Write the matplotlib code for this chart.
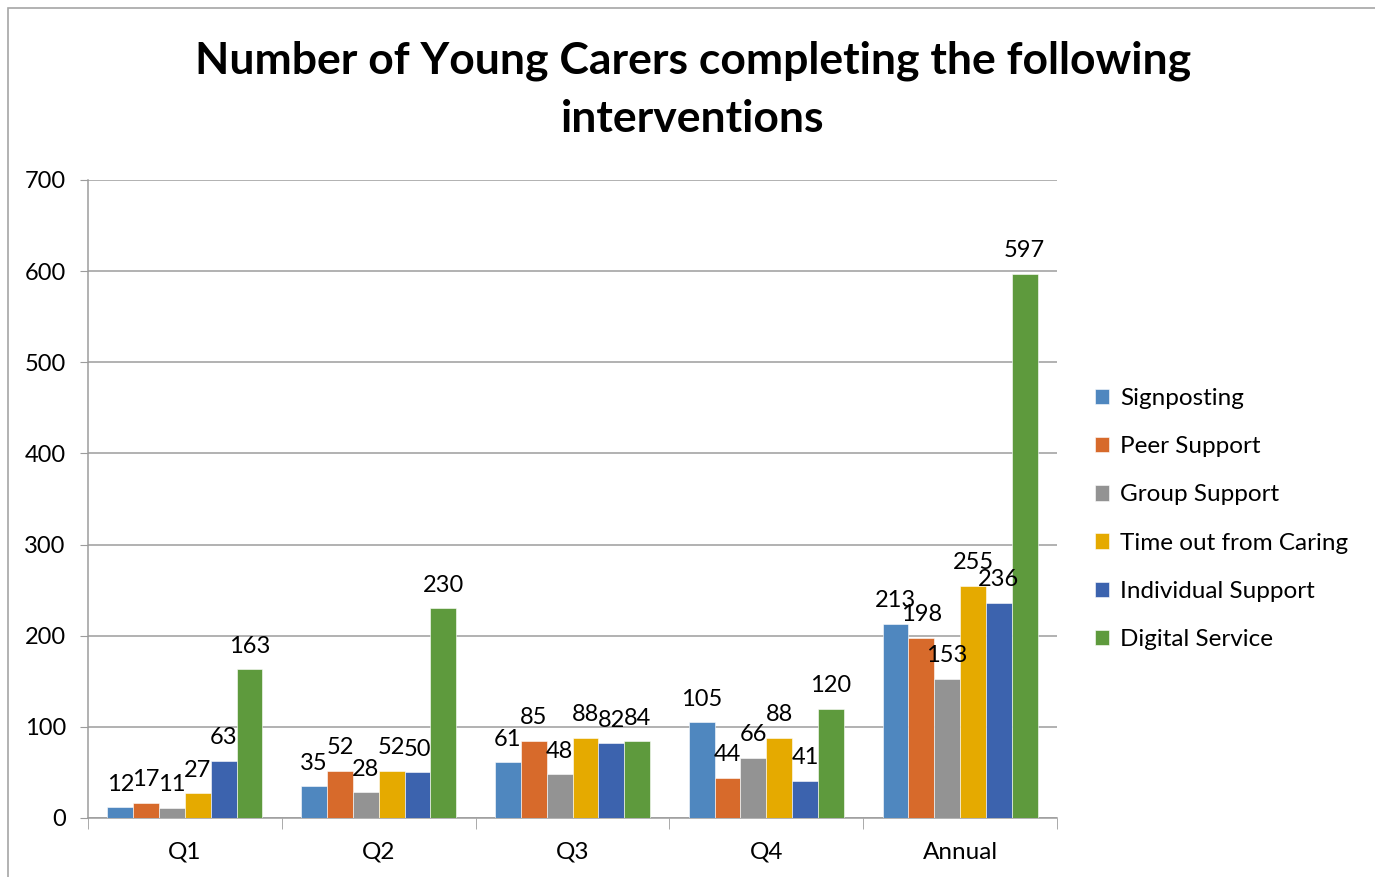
import numpy as np
import matplotlib.pyplot as plt
from matplotlib.patches import Rectangle

categories = ['Q1', 'Q2', 'Q3', 'Q4', 'Annual']
series_names = ['Signposting', 'Peer Support', 'Group Support',
                'Time out from Caring', 'Individual Support', 'Digital Service']
signposting = [12, 35, 61, 105, 213]
peer_support = [17, 52, 85, 44, 198]
group_support = [11, 28, 48, 66, 153]
time_out = [27, 52, 88, 88, 255]
individual_support = [63, 50, 82, 41, 236]
digital_service = [163, 230, 84, 120, 597]

colors = ['#4F87BF', '#D76A2B', '#939393', '#E5AA00', '#3C63AE', '#5E9A3D']

plt.rcParams['font.family'] = ['Lato', 'DejaVu Sans']

fig = plt.figure(figsize=(13.75, 8.77), dpi=100)
ax = fig.add_axes([88 / 1375, 1 - 818 / 877, (1057 - 88) / 1375, (818 - 180) / 877])

# outer chart frame
fig.patches.append(Rectangle((8 / 1375, -0.01), 1.2, 1 - 8 / 877 + 0.01,
                             transform=fig.transFigure, fill=False,
                             edgecolor='#A6A6A6', linewidth=1.2))

all_series = [signposting, peer_support, group_support, time_out,
              individual_support, digital_service]
x = np.arange(len(categories))
width = 0.8 / len(all_series)

for i, (name, vals) in enumerate(zip(series_names, all_series)):
    pos = x - 0.4 + width * (i + 0.5)
    bars = ax.bar(pos, vals, width, color=colors[i], label=name,
                  edgecolor='white', linewidth=0.4, zorder=3)
    for b, v in zip(bars, vals):
        ax.annotate(str(v), (b.get_x() + b.get_width() / 2, v),
                    xytext=(0, 9), textcoords='offset points',
                    ha='center', va='bottom', fontsize=17, color='black',
                    zorder=10)

ax.set_xlim(-0.5, len(categories) - 0.5)
ax.set_ylim(0, 700)
ax.set_yticks(np.arange(0, 701, 100))
ax.yaxis.grid(True, color='#9C9C9C', linewidth=1.1, zorder=0)
ax.set_axisbelow(True)

ax.set_xticks(x)
ax.set_xticklabels(categories, fontsize=17.5)
ax.set_xticks(np.arange(-0.5, len(categories)), minor=True)
ax.tick_params(axis='x', which='major', length=0, pad=17)
ax.tick_params(axis='x', which='minor', length=8, color='#9C9C9C')
ax.tick_params(axis='y', labelsize=17, length=6, color='#9C9C9C', pad=10)

for s in ['top', 'right']:
    ax.spines[s].set_visible(False)
for s in ['left', 'bottom']:
    ax.spines[s].set_color('#9C9C9C')
    ax.spines[s].set_linewidth(1.1)

fig.text(693 / 1375, 1 - 90 / 877,
         'Number of Young Carers completing the following\ninterventions',
         ha='center', va='center', fontsize=32, fontweight='bold',
         linespacing=1.55)

leg = ax.legend(loc='center left', bbox_to_anchor=(1073 / 1375, 1 - 519 / 877),
                bbox_transform=fig.transFigure, frameon=False, fontsize=17.5,
                handlelength=0.6, handleheight=0.6, handletextpad=0.45,
                labelspacing=1.12)

fig.savefig('out.png', dpi=100)
